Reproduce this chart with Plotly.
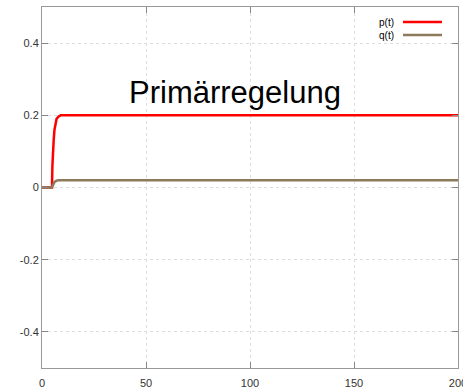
import plotly.graph_objects as go

# data
t = [0, 4.8, 5.0, 5.3, 5.6, 6.0, 6.5, 7.0, 8.0, 9.0, 10.0, 200]
p = [0, 0, 0.06, 0.12, 0.13, 0.16, 0.18, 0.19, 0.197, 0.2, 0.2, 0.2]
q = [0, 0, 0.004, 0.009, 0.012, 0.015, 0.017, 0.019, 0.02, 0.02, 0.02, 0.02]
x_ticks = [0, 50, 100, 150, 200]
y_ticks = [-0.4, -0.2, 0, 0.2, 0.4]
y_labels = ["-0.4", "-0.2", "0", "0.2", "0.4"]
series_names = ["p(t)", "q(t)"]
colors = ["#ff0000", "#8c7a5b"]

fig = go.Figure()
for name, ys, c in zip(series_names, [p, q], colors):
    fig.add_trace(go.Scatter(x=t, y=ys, mode="lines", name=name,
                             line=dict(color=c, width=2.5), showlegend=False))

axis_common = dict(showline=True, linecolor="#999999", linewidth=1, mirror="allticks",
                   ticks="inside", ticklen=6, tickcolor="#888888",
                   showgrid=True, gridcolor="#dddddd", griddash="dot", gridwidth=1,
                   zeroline=False, ticklabeloverflow="allow", automargin=False,
                   tickfont=dict(family="Liberation Sans, Arial", size=11, color="#333333"))
fig.update_xaxes(range=[0, 200], tickvals=x_ticks, ticktext=[str(v) for v in x_ticks],
                 ticklabelstandoff=5, **axis_common)
fig.update_yaxes(range=[-0.5, 0.5], tickvals=y_ticks, ticktext=y_labels, **axis_common)

fig.add_annotation(x=93, y=0.262, xref="x", yref="y", text="Primärregelung", showarrow=False,
                   font=dict(family="Liberation Sans, Arial", size=31, color="#000000"))

# legend (gnuplot style: text left, sample right)
for i, (name, c) in enumerate(zip(series_names, colors)):
    ypos = 1 - (15 + 13 * i) / 361
    fig.add_annotation(x=(396 - 42) / 416, y=ypos, xref="paper", yref="paper", text=name,
                       showarrow=False, xanchor="right", yanchor="middle",
                       font=dict(family="Liberation Sans, Arial", size=10, color="#000000"))
    fig.add_shape(type="line", xref="paper", yref="paper",
                  x0=(403 - 42) / 416, x1=(442 - 42) / 416, y0=ypos, y1=ypos,
                  line=dict(color=c, width=2.5))

fig.update_layout(width=463, height=390, margin=dict(l=42, r=5, t=7, b=22),
                  paper_bgcolor="white", plot_bgcolor="white")
fig.write_html("out.html")
